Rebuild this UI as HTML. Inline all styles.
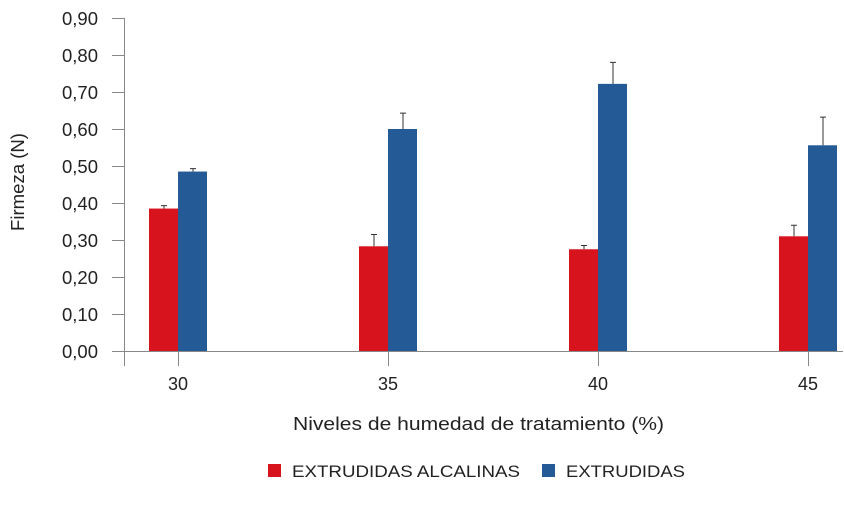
<!DOCTYPE html>
<html><head><meta charset="utf-8"><style>
body{margin:0;background:#fff;width:844px;height:508px;overflow:hidden}
svg{font-family:"Liberation Sans",sans-serif}
</style></head><body>
<svg id="chart" width="844" height="508">
<g id="axes"></g><g id="bars"></g>
<text x="24" y="182" transform="rotate(-90 24 182)" text-anchor="middle" font-size="18" fill="#222" textLength="98" lengthAdjust="spacingAndGlyphs">Firmeza (N)</text>
<text x="293" y="430" font-size="18" fill="#222" textLength="371" lengthAdjust="spacingAndGlyphs">Niveles de humedad de tratamiento (%)</text>
<g>
<rect x="268" y="464" width="13" height="13" fill="#d7141e"/>
<text x="292" y="477" font-size="17" fill="#222" textLength="228" lengthAdjust="spacingAndGlyphs">EXTRUDIDAS ALCALINAS</text>
<rect x="542" y="464" width="13" height="13" fill="#245b96"/>
<text x="566" y="477" font-size="17" fill="#222" textLength="119" lengthAdjust="spacingAndGlyphs">EXTRUDIDAS</text>
</g>
</svg>
<script>
const categories=["30","35","40","45"];
const alcalinas=[0.385,0.283,0.275,0.31];
const alcalinasErr=[0.008,0.032,0.01,0.03];
const extrudidas=[0.485,0.60,0.722,0.556];
const extrudidasErr=[0.008,0.043,0.058,0.076];
const yTicks=[0,0.1,0.2,0.3,0.4,0.5,0.6,0.7,0.8,0.9];
const yTickLabels=["0,00","0,10","0,20","0,30","0,40","0,50","0,60","0,70","0,80","0,90"];
const NS="http://www.w3.org/2000/svg";
const y0=351,pxPer=370,x0=178,step=210,bw=29;
const Y=v=>y0-v*pxPer, X=i=>x0+i*step;
function mk(tag,attrs,parent,txt){const e=document.createElementNS(NS,tag);for(const k in attrs)e.setAttribute(k,attrs[k]);if(txt!==undefined)e.textContent=txt;parent.appendChild(e);return e;}
const axes=document.getElementById('axes'),bars=document.getElementById('bars');
let a=mk('line',{x1:124.5,y1:18,x2:124.5,y2:366,stroke:'#888','stroke-width':1},axes);

a=mk('line',{x1:124,y1:351.5,x2:843,y2:351.5,stroke:'#888','stroke-width':1},axes);

yTicks.forEach((v,i)=>{
 const t=mk('line',{x1:112,x2:124,y1:Y(v)+0.5,y2:Y(v)+0.5,stroke:'#888'},axes);
 
 const l=mk('text',{x:62,y:Y(v)+7,'font-size':18,fill:'#222',textLength:36,lengthAdjust:'spacingAndGlyphs'},axes,yTickLabels[i]);
 
});
categories.forEach((c,i)=>{
 const t=mk('line',{x1:X(i)+0.5,x2:X(i)+0.5,y1:y0,y2:366,stroke:'#888'},axes);
 
 const l=mk('text',{x:X(i),y:390,'text-anchor':'middle','font-size':18,fill:'#222'},axes,c);
 
 [[alcalinas,alcalinasErr,'#d7141e',X(i)-bw,'alcalinas'],[extrudidas,extrudidasErr,'#245b96',X(i),'extrudidas']].forEach(([vals,errs,col,bx,nm])=>{
  const v=vals[i];
  const r=mk('rect',{x:bx,y:Y(v),width:bw,height:y0-Y(v),fill:col},bars);
  
  const cx=bx+bw/2+0.5,top=Y(v+errs[i]);
  const e=mk('path',{d:`M${cx},${Y(v)}V${top}M${cx-3},${top}H${cx+3}`,stroke:'#333','stroke-width':1,fill:'none'},bars);
  
 });
});
</script>
</body></html>
